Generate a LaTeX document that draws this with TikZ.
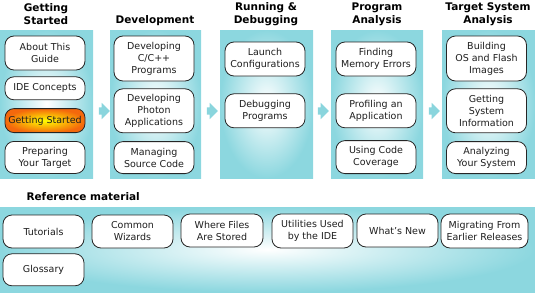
\documentclass[tikz,border=0pt]{standalone}
\usepackage{fontspec}
\setmainfont{DejaVu Sans}
\usetikzlibrary{positioning,shapes.arrows}
\definecolor{panelcyan}{RGB}{140,215,223}
\definecolor{flowcyan}{RGB}{138,213,221}
\definecolor{hotorange}{RGB}{244,104,12}
\definecolor{textgray}{RGB}{30,30,30}

\begin{document}
\begin{tikzpicture}[
 x=1pt, y=-1pt,
 panel/.style={rectangle, inner sep=0pt, outer color=panelcyan, inner color=white},
 topic/.style={rectangle, draw=black!85, line width=0.8pt, rounded corners=9pt, fill=white, minimum width=80pt, align=center, inner sep=1pt, text=textgray, font=\fontsize{9.5}{12}\selectfont},
 hot/.style={topic, outer color=hotorange, inner color=yellow},
 flow/.style={single arrow, fill=flowcyan, draw=none, inner sep=3.5pt, minimum height=11pt, single arrow head extend=4.5pt, single arrow head indent=0pt},
 heading/.style={align=center, font=\fontsize{10.5}{13}\selectfont\bfseries}
]
\useasboundingbox (0,0) rectangle (535,292);

% Panels
\node[panel, minimum width=93pt, minimum height=148pt] (p1) at (46.5,104) {};
\node[panel, minimum width=91pt, minimum height=148pt] (p2) at (155.5,104) {};
\node[panel, minimum width=93pt, minimum height=148pt] (p3) at (266.5,104) {};
\node[panel, minimum width=92pt, minimum height=148pt] (p4) at (377,104) {};
\node[panel, minimum width=93pt, minimum height=148pt] (p5) at (488.5,104) {};
\node[panel, minimum width=535pt, minimum height=85pt] (ref) at (267.5,249.5) {};

% Flow arrows
\node[flow] (f1) at (102.5,111) {};
\node[flow] (f2) at (210.5,111) {};
\node[flow] (f3) at (321.5,111) {};
\node[flow] (f4) at (432.5,111) {};

% Headings
\node[heading] (h1) at (46,14.5) {Getting\\Started};
\node[heading] (h2) at (155,21) {Development};
\node[heading] (h3) at (266,14.5) {Running \&\\Debugging};
\node[heading] (h4) at (377,14.5) {Program\\Analysis};
\node[heading] (h5) at (488,14.5) {Target System\\Analysis};
\node[heading, anchor=west] (h6) at (23,197) {Reference material};

% Getting Started
\node[topic, minimum height=34pt] (about) at (45,53) {About This\\Guide};
\node[topic, minimum height=23pt, below=6pt of about] (concepts) {IDE Concepts};
\node[hot, minimum height=24pt, below=8pt of concepts] (started) {Getting Started};
\node[topic, minimum height=32pt, below=8pt of started] (prepare) {Preparing\\Your Target};

% Development
\node[topic, minimum height=45pt] (cpp) at (154,58.5) {Developing\\C/C++\\Programs};
\node[topic, minimum height=44pt, below=7pt of cpp] (photon) {Developing\\Photon\\Applications};
\node[topic, minimum height=32pt, below=8pt of photon] (source) {Managing\\Source Code};

% Running & Debugging
\node[topic, minimum height=34pt] (launch) at (265,59) {Launch\\Configurations};
\node[topic, minimum height=34pt, below=17pt of launch] (debug) {Debugging\\Programs};

% Program Analysis
\node[topic, minimum height=34pt] (memory) at (376,59) {Finding\\Memory Errors};
\node[topic, minimum height=34pt, below=17pt of memory] (profile) {Profiling an\\Application};
\node[topic, minimum height=33pt, below=12pt of profile] (coverage) {Using Code\\Coverage};

% Target System Analysis
\node[topic, minimum height=45pt] (images) at (486.5,58.5) {Building\\OS and Flash\\Images};
\node[topic, minimum height=44pt, below=7pt of images] (sysinfo) {Getting\\System\\Information};
\node[topic, minimum height=32pt, below=8pt of sysinfo] (analyze) {Analyzing\\Your System};

% Reference material
\node[topic, minimum width=81pt, minimum height=33pt] (tutorials) at (43.5,231.5) {Tutorials};
\node[topic, minimum width=81pt, minimum height=32pt, below=5pt of tutorials] (glossary) {Glossary};
\node[topic, minimum width=81pt, minimum height=33pt] (wizards) at (132.5,231.5) {Common\\Wizards};
\node[topic, minimum width=82pt, minimum height=33pt] (files) at (222,230.5) {Where Files\\Are Stored};
\node[topic, minimum width=81pt, minimum height=34pt] (utils) at (312.5,231) {Utilities Used\\by the IDE};
\node[topic, minimum width=81pt, minimum height=33pt] (news) at (397.5,230.5) {What's New};
\node[topic, minimum width=87pt, minimum height=34pt] (migrate) at (484.5,231) {Migrating From\\Earlier Releases};

\end{tikzpicture}
\end{document}
